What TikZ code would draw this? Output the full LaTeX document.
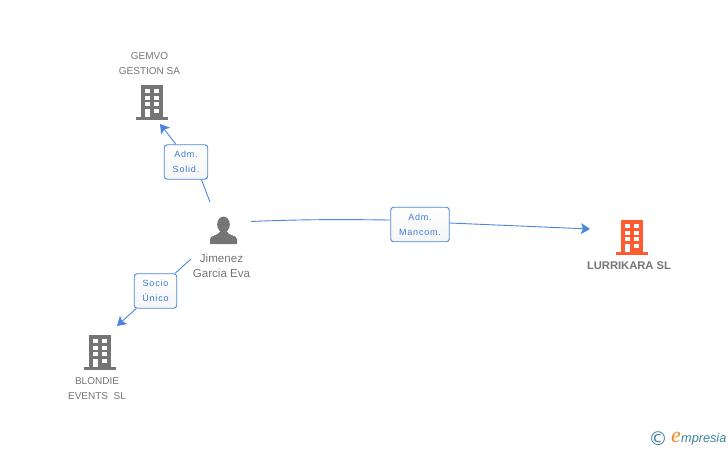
\documentclass[tikz,border=0pt]{standalone}
\usepackage{fontspec}
\usepackage{tikz}
\usetikzlibrary{arrows.meta, positioning}
\setmainfont{Liberation Sans}
\newfontfamily\boxfont[LetterSpace=9]{Liberation Sans}
\newfontfamily\symbfont{DejaVu Sans}
\newfontfamily\logofont{Liberation Serif}
\definecolor{linkblue}{HTML}{4A86E0}
\definecolor{boxtext}{HTML}{3A78D8}
\definecolor{icongray}{HTML}{757575}
\definecolor{iconred}{HTML}{FF5A30}
\definecolor{logoteal}{HTML}{3F7F9F}
\definecolor{logoorange}{HTML}{F08A1E}

\tikzset{
    link/.style={draw=linkblue, line width=0.9pt},
    linkarrow/.style={link, -{Stealth[length=9pt, width=11pt, inset=2pt]}},
    relbox/.style={draw=linkblue, line width=0.9pt, rounded corners=3pt, top color=white,
        bottom color=black!4, text=boxtext, align=center, inner sep=0pt,
        execute at begin node=\rule{0pt}{11pt},
        font=\boxfont\fontsize{9}{15}\selectfont},
    company/.style={text=icongray, align=center, inner sep=0pt,
        font=\fontsize{10}{15}\selectfont},
    buildingicon/.pic={
        \fill[pic actions] (-11,-17) rectangle (11,15);
        \fill[pic actions] (-16,14.5) rectangle (16,17.5);
        \foreach \row in {-13,-6.4,0.2}{
            \fill[white] (-7,\row) rectangle (-2.5,\row+4.2);
            \fill[white] (2.3,\row) rectangle (7,\row+4.2);
        }
        \fill[white] (-7,7) rectangle (-2.5,15);
        \fill[white] (2.3,7) rectangle (7,11.2);
    },
    personicon/.pic={
        \fill[icongray] (0,-6.5) ellipse (6.3 and 8);
        \fill[icongray] (-13.5,13) -- (-13.5,8) .. controls (-13,4) and (-5,5) .. (-3,0)
            -- (3,0) .. controls (5,5) and (13,4) .. (13.5,8) -- (13.5,13) -- cycle;
    }
}

\begin{document}
\begin{tikzpicture}[x=1pt, y=-1pt]
    \useasboundingbox (0,0) rectangle (728,450);

    % icons
    \pic[icongray] at (152,102) {buildingicon};
    \pic[icongray] at (100,352) {buildingicon};
    \pic[iconred] at (632,237) {buildingicon};
    \pic at (223.5,231) {personicon};

    % names
    \node[company] (gemvo) at (149.5,64) {GEMVO\\GESTION SA};
    \node[company] (blondie) at (97,389) {BLONDIE\\EVENTS\ \ SL};
    \node[company, font=\bfseries\fontsize{11.2}{15}\selectfont] (lurrikara) at (629,266) {LURRIKARA SL};
    \node[company, font=\fontsize{11.6}{15}\selectfont] (jimenez) at (221.5,265.5) {Jimenez\\Garcia Eva};

    % relation boxes
    \node[relbox, minimum width=43.5pt, minimum height=34.5pt] (solid) at (186,162) {Adm.\\Solid.};
    \node[relbox, minimum width=42.5pt, minimum height=34.5pt] (socio) at (155.5,291) {Socio\\Único};
    \node[relbox, minimum width=58.5pt, minimum height=34.5pt] (mancom) at (420,224.5) {Adm.\\Mancom.};

    % free ends
    \coordinate (toGemvo) at (160,124);
    \coordinate (toBlondie) at (117,326);
    \coordinate (toLurrikara) at (590,229);
    \coordinate (fromSolid) at (210,202);
    \coordinate (fromSocio) at (191,259);
    \coordinate (fromMancom) at (251,221.5);

    \draw[link] (fromSolid) -- ([xshift=15.5pt]solid.south);
    \draw[linkarrow] ([xshift=-10pt]solid.north) -- (toGemvo);
    \draw[link] (fromSocio) -- (socio);
    \draw[linkarrow] (socio) -- (toBlondie);
    \draw[link] (fromMancom) .. controls (310,219) and (350,219.5) .. (mancom.west |- 0,220);
    \draw[linkarrow] (mancom.east |- 0,223) -- (toLurrikara);

    % logo
    \node[text=logoteal, inner sep=0pt, font=\symbfont\fontsize{19}{19}\selectfont] (copyr) at (658,438.5) {©};
    \node[text=logoteal, inner sep=0pt, anchor=base west, font=\itshape\fontsize{12.7}{13}\selectfont] (brand) at (681,442) {mpresia};
    \node[text=logoorange, inner sep=0pt, anchor=base east, font=\logofont\itshape\fontsize{22}{22}\selectfont] (brande) at (brand.base west) {e};
\end{tikzpicture}
\end{document}
